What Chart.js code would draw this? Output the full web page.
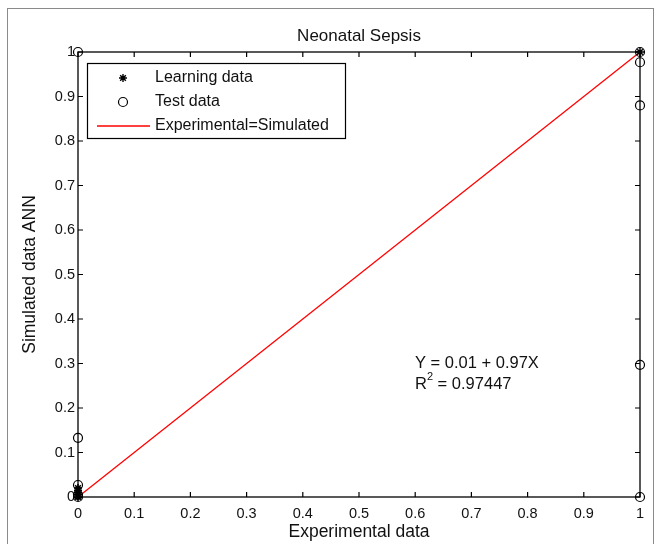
<!DOCTYPE html>
<html>
<head>
<meta charset="utf-8">
<script src="https://cdn.jsdelivr.net/npm/chart.js@4/dist/chart.umd.min.js"></script>
<style>
html,body{margin:0;padding:0;background:#fff;}
#wrap{width:655px;height:544px;position:relative;}
</style>
</head>
<body>
<div id="wrap"><canvas id="c" width="655" height="544"></canvas></div>
<script>
// ---- data ----
const titleText = "Neonatal Sepsis";
const xAxisTitle = "Experimental data";
const yAxisTitle = "Simulated data ANN";
const tickValues = [0, 0.1, 0.2, 0.3, 0.4, 0.5, 0.6, 0.7, 0.8, 0.9, 1];
const tickLabels = ["0", "0.1", "0.2", "0.3", "0.4", "0.5", "0.6", "0.7", "0.8", "0.9", "1"];
const learnX = [0, 0, 0, 0, 0, 1];
const learnY = [0, 0.005, 0.01, 0.015, 0.02, 1];
const testX = [0, 0, 0, 0, 0, 1, 1, 1, 1, 1];
const testY = [1, 0.133, 0.027, 0.005, 0, 1, 0.977, 0.88, 0.297, 0];
const lineX = [0, 1];
const lineY = [0, 1];
const fitText = "Y = 0.01 + 0.97X";
const r2Value = "0.97447";
const legendLabels = ["Learning data", "Test data", "Experimental=Simulated"];

const FONT = "'Liberation Sans', Arial, sans-serif";
const zip = (xs, ys) => xs.map((x, i) => ({x: x, y: ys[i]}));

const decor = {
  id: 'decor',
  afterDraw(chart) {
    const ctx = chart.ctx;
    const a = chart.chartArea;
    const xs = chart.scales.x, ys = chart.scales.y;
    ctx.save();
    // outer frame
    ctx.strokeStyle = '#8a8a8a';
    ctx.lineWidth = 1;
    ctx.strokeRect(7.5, 8.5, 646, 560);
    // axes box
    ctx.strokeStyle = '#000';
    ctx.lineWidth = 1.3;
    ctx.strokeRect(a.left, a.top, a.right - a.left, a.bottom - a.top);
    // inward ticks
    ctx.lineWidth = 1.2;
    const tl = 5;
    tickValues.forEach(v => {
      const px = xs.getPixelForValue(v);
      const py = ys.getPixelForValue(v);
      ctx.beginPath();
      ctx.moveTo(px, a.bottom); ctx.lineTo(px, a.bottom - tl);
      ctx.moveTo(px, a.top); ctx.lineTo(px, a.top + tl);
      ctx.moveTo(a.left, py); ctx.lineTo(a.left + tl, py);
      ctx.moveTo(a.right, py); ctx.lineTo(a.right - tl, py);
      ctx.stroke();
    });
    // titles
    ctx.fillStyle = '#111';
    ctx.textAlign = 'center';
    ctx.textBaseline = 'middle';
    ctx.font = '17px ' + FONT;
    ctx.fillText(titleText, (a.left + a.right) / 2, 36);
    ctx.font = '17.5px ' + FONT;
    ctx.fillText(xAxisTitle, (a.left + a.right) / 2, 532);
    ctx.save();
    ctx.translate(30, (a.top + a.bottom) / 2);
    ctx.rotate(-Math.PI / 2);
    ctx.fillText(yAxisTitle, 0, 0);
    ctx.restore();
    // annotation
    ctx.textAlign = 'left';
    ctx.font = '16.5px ' + FONT;
    ctx.fillText(fitText, 415, 363);
    ctx.fillText('R', 415, 384);
    let w = ctx.measureText('R').width;
    ctx.font = '11px ' + FONT;
    ctx.fillText('2', 415 + w, 377);
    let w2 = ctx.measureText('2').width;
    ctx.font = '16.5px ' + FONT;
    ctx.fillText(' = ' + r2Value, 415 + w + w2, 384);
    // legend
    ctx.fillStyle = '#fff';
    ctx.fillRect(87, 63, 259, 76);
    ctx.strokeStyle = '#000';
    ctx.lineWidth = 1.2;
    ctx.strokeRect(87.5, 63.5, 258, 75);
    ctx.fillStyle = '#111';
    ctx.font = '16px ' + FONT;
    ctx.textBaseline = 'middle';
    const rows = [78, 102, 126];
    legendLabels.forEach((t, i) => ctx.fillText(t, 155, rows[i]));
    // star marker
    const sx = 123, sy = rows[0];
    ctx.strokeStyle = '#000';
    ctx.lineWidth = 1.4;
    ctx.beginPath();
    for (let k = 0; k < 4; k++) {
      const ang = k * Math.PI / 4;
      ctx.moveTo(sx - 4 * Math.cos(ang), sy - 4 * Math.sin(ang));
      ctx.lineTo(sx + 4 * Math.cos(ang), sy + 4 * Math.sin(ang));
    }
    ctx.stroke();
    // circle marker
    ctx.lineWidth = 1.2;
    ctx.beginPath();
    ctx.arc(123, rows[1], 4.5, 0, Math.PI * 2);
    ctx.stroke();
    // red line
    ctx.strokeStyle = '#ff0000';
    ctx.lineWidth = 1.3;
    ctx.beginPath();
    ctx.moveTo(97, rows[2]); ctx.lineTo(150, rows[2]);
    ctx.stroke();
    ctx.restore();
  }
};

new Chart(document.getElementById('c'), {
  type: 'scatter',
  data: {
    datasets: [
      {
        label: legendLabels[2],
        data: zip(lineX, lineY),
        showLine: true,
        borderColor: '#ff0000',
        borderWidth: 1.3,
        pointRadius: 0,
        clip: false,
        order: 3
      },
      {
        label: legendLabels[1],
        data: zip(testX, testY),
        pointStyle: 'circle',
        pointRadius: 4.5,
        borderColor: '#000',
        borderWidth: 1.2,
        backgroundColor: 'rgba(0,0,0,0)',
        clip: false,
        order: 2
      },
      {
        label: legendLabels[0],
        data: zip(learnX, learnY),
        pointStyle: 'star',
        pointRadius: 4,
        borderColor: '#000',
        borderWidth: 1.5,
        backgroundColor: '#000',
        clip: false,
        order: 1
      }
    ]
  },
  options: {
    responsive: false,
    animation: false,
    events: [],
    layout: { padding: { left: 0, top: 52, right: 15, bottom: 0 } },
    plugins: { legend: { display: false }, tooltip: { enabled: false }, title: { display: false } },
    scales: {
      x: {
        type: 'linear', min: 0, max: 1,
        afterFit: s => { s.height = 47; },
        afterBuildTicks: s => { s.ticks = tickValues.map(v => ({value: v})); },
        grid: { display: false, drawTicks: false },
        border: { display: false },
        ticks: {
          color: '#111', font: { family: FONT, size: 14.5 }, padding: 8,
          maxRotation: 0, autoSkip: false,
          callback: (v) => { const i = tickValues.findIndex(t => Math.abs(t - v) < 1e-9); return i >= 0 ? tickLabels[i] : ''; }
        }
      },
      y: {
        type: 'linear', min: 0, max: 1,
        afterFit: s => { s.width = 78; },
        afterBuildTicks: s => { s.ticks = tickValues.map(v => ({value: v})); },
        grid: { display: false, drawTicks: false },
        border: { display: false },
        ticks: {
          color: '#111', font: { family: FONT, size: 14.5 }, padding: 3,
          autoSkip: false,
          callback: (v) => { const i = tickValues.findIndex(t => Math.abs(t - v) < 1e-9); return i >= 0 ? tickLabels[i] : ''; }
        }
      }
    }
  },
  plugins: [decor]
});
</script>
</body>
</html>
